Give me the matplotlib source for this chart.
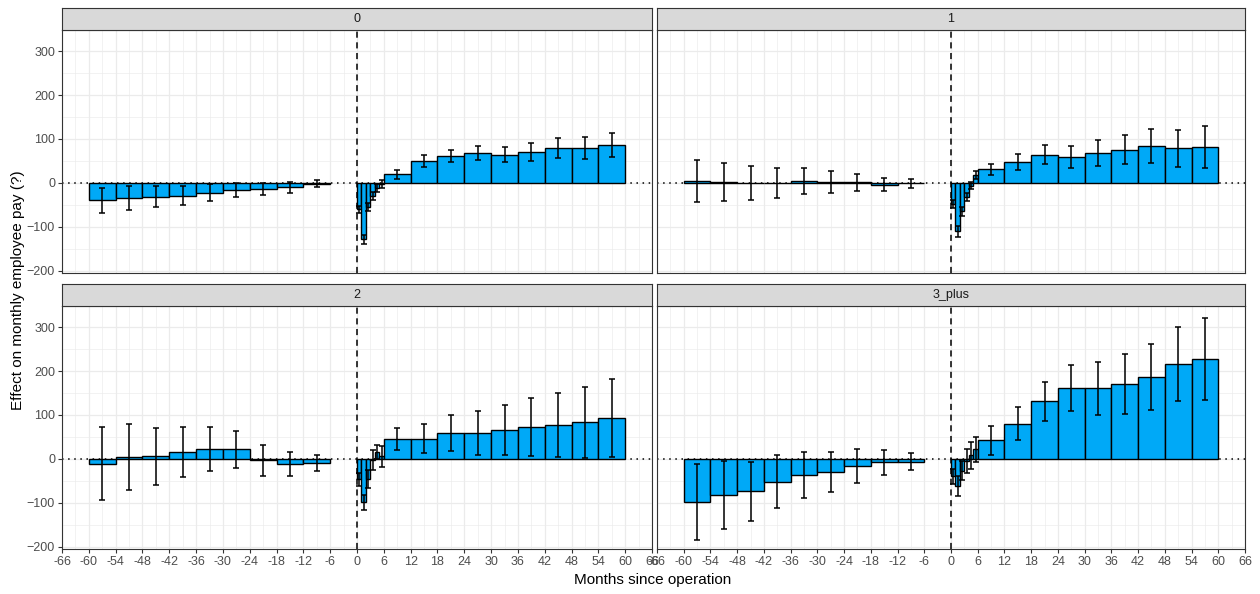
import numpy as np
import matplotlib
matplotlib.use('Agg')
import matplotlib.pyplot as plt
from matplotlib.ticker import MultipleLocator

plt.rcParams['font.family'] = ['Liberation Sans', 'DejaVu Sans']

# bins: nine 6-month bins before, six 1-month bins, nine 6-month bins after
bin_lo = [-60, -54, -48, -42, -36, -30, -24, -18, -12,
          0, 1, 2, 3, 4, 5,
          6, 12, 18, 24, 30, 36, 42, 48, 54]
bin_hi = [-54, -48, -42, -36, -30, -24, -18, -12, -6,
          1, 2, 3, 4, 5, 6,
          12, 18, 24, 30, 36, 42, 48, 54, 60]

facet_names = ['0', '1', '2', '3_plus']

est_0 = [-40, -35, -31, -29, -22, -16, -14, -10, -2,
         -60, -128, -55, -30, -12, -3,
         20, 50, 61, 68, 64, 70, 80, 80, 86]
err_0 = [29, 27, 24, 21, 19, 16, 14, 12, 8,
         8, 10, 9, 9, 9, 9,
         10, 13, 14, 15, 17, 20, 23, 25, 27]

est_1 = [5, 2, 0, -1, 5, 1, 1, -4, -1,
         -48, -110, -65, -32, -6, 18,
         31, 48, 64, 60, 68, 75, 84, 79, 82]
err_1 = [48, 43, 38, 34, 30, 25, 19, 15, 11,
         10, 12, 10, 10, 8, 8,
         13, 18, 22, 25, 29, 33, 38, 42, 47]

est_2 = [-11, 4, 6, 16, 23, 22, -3, -11, -9,
         -46, -99, -46, -3, 15, 6,
         46, 46, 60, 60, 65, 72, 78, 83, 93]
err_2 = [83, 75, 65, 57, 50, 42, 35, 27, 18,
         15, 18, 20, 23, 16, 24,
         25, 33, 41, 50, 57, 66, 73, 80, 88]

est_3 = [-98, -82, -74, -52, -37, -30, -16, -8, -6,
         -40, -62, -27, -5, 8, 22,
         43, 80, 131, 161, 161, 170, 186, 216, 227]
err_3 = [86, 78, 68, 60, 52, 45, 38, 28, 20,
         18, 23, 22, 28, 30, 28,
         33, 38, 45, 52, 60, 68, 75, 85, 93]

estimates = [est_0, est_1, est_2, est_3]
errors = [err_0, err_1, err_2, err_3]

x_ticks = list(range(-66, 67, 6))
y_ticks = [-200, -100, 0, 100, 200, 300]

W, H = 1260, 594
fig = plt.figure(figsize=(W / 100, H / 100), dpi=100)

cols = [(62, 652), (657, 1245)]
rows = [(8, 30, 273), (284, 306, 549)]   # strip top, panel top, panel bottom

bar_color = '#00A9F7'
dark = '#333333'

lo = np.array(bin_lo, dtype=float)
hi = np.array(bin_hi, dtype=float)
centers = (lo + hi) / 2
widths = hi - lo

for k, name in enumerate(facet_names):
    r, c = divmod(k, 2)
    x0, x1 = cols[c]
    st, pt, pb = rows[r]
    ax = fig.add_axes([x0 / W, 1 - pb / H, (x1 - x0) / W, (pb - pt) / H])
    sax = fig.add_axes([x0 / W, 1 - pt / H, (x1 - x0) / W, (pt - st) / H])

    est = np.array(estimates[k])
    err = np.array(errors[k])

    ax.axhline(0, color='black', ls=(0, (1, 3)), lw=1.1, zorder=1.5)
    ax.axvline(0, color='black', ls=(0, (4, 3)), lw=1.1, zorder=1.5)
    ax.bar(lo, est, width=widths, align='edge', color=bar_color,
           edgecolor='black', linewidth=1.0, zorder=2)
    ax.errorbar(centers, est, yerr=err, fmt='none', ecolor='black',
                elinewidth=1.1, capsize=2.5, capthick=1.1, zorder=3)

    ax.set_xlim(-66, 66)
    ax.set_ylim(-205, 348)
    ax.set_xticks(x_ticks)
    ax.set_yticks(y_ticks)
    ax.xaxis.set_minor_locator(MultipleLocator(3))
    ax.yaxis.set_minor_locator(MultipleLocator(50))
    ax.grid(True, which='major', color='#EBEBEB', lw=0.9, zorder=0)
    ax.grid(True, which='minor', color='#EBEBEB', lw=0.45, zorder=0)
    ax.set_axisbelow(True)
    ax.tick_params(which='major', length=3, color=dark, width=0.8,
                   labelcolor='#4D4D4D', labelsize=9, pad=2)
    ax.tick_params(which='minor', length=0)
    if r == 0:
        ax.tick_params(axis='x', length=0, labelbottom=False)
    else:
        ax.set_xticklabels([str(t) for t in x_ticks])
    if c == 1:
        ax.tick_params(axis='y', length=0, labelleft=False)
    for sp in ax.spines.values():
        sp.set_color(dark)
        sp.set_linewidth(0.8)

    sax.set_facecolor('#D9D9D9')
    sax.set_xticks([])
    sax.set_yticks([])
    for sp in sax.spines.values():
        sp.set_color(dark)
        sp.set_linewidth(0.8)
    sax.text(0.5, 0.5, name, ha='center', va='center', fontsize=9,
             color='#1A1A1A', transform=sax.transAxes)

fig.text(653 / W, 1 - 580 / H, 'Months since operation', ha='center',
         va='center', fontsize=11, color='black')
fig.text(18 / W, 1 - 290 / H, 'Effect on monthly employee pay (?)',
         ha='center', va='center', rotation=90, fontsize=11, color='black')

fig.savefig('out.png', dpi=100)
